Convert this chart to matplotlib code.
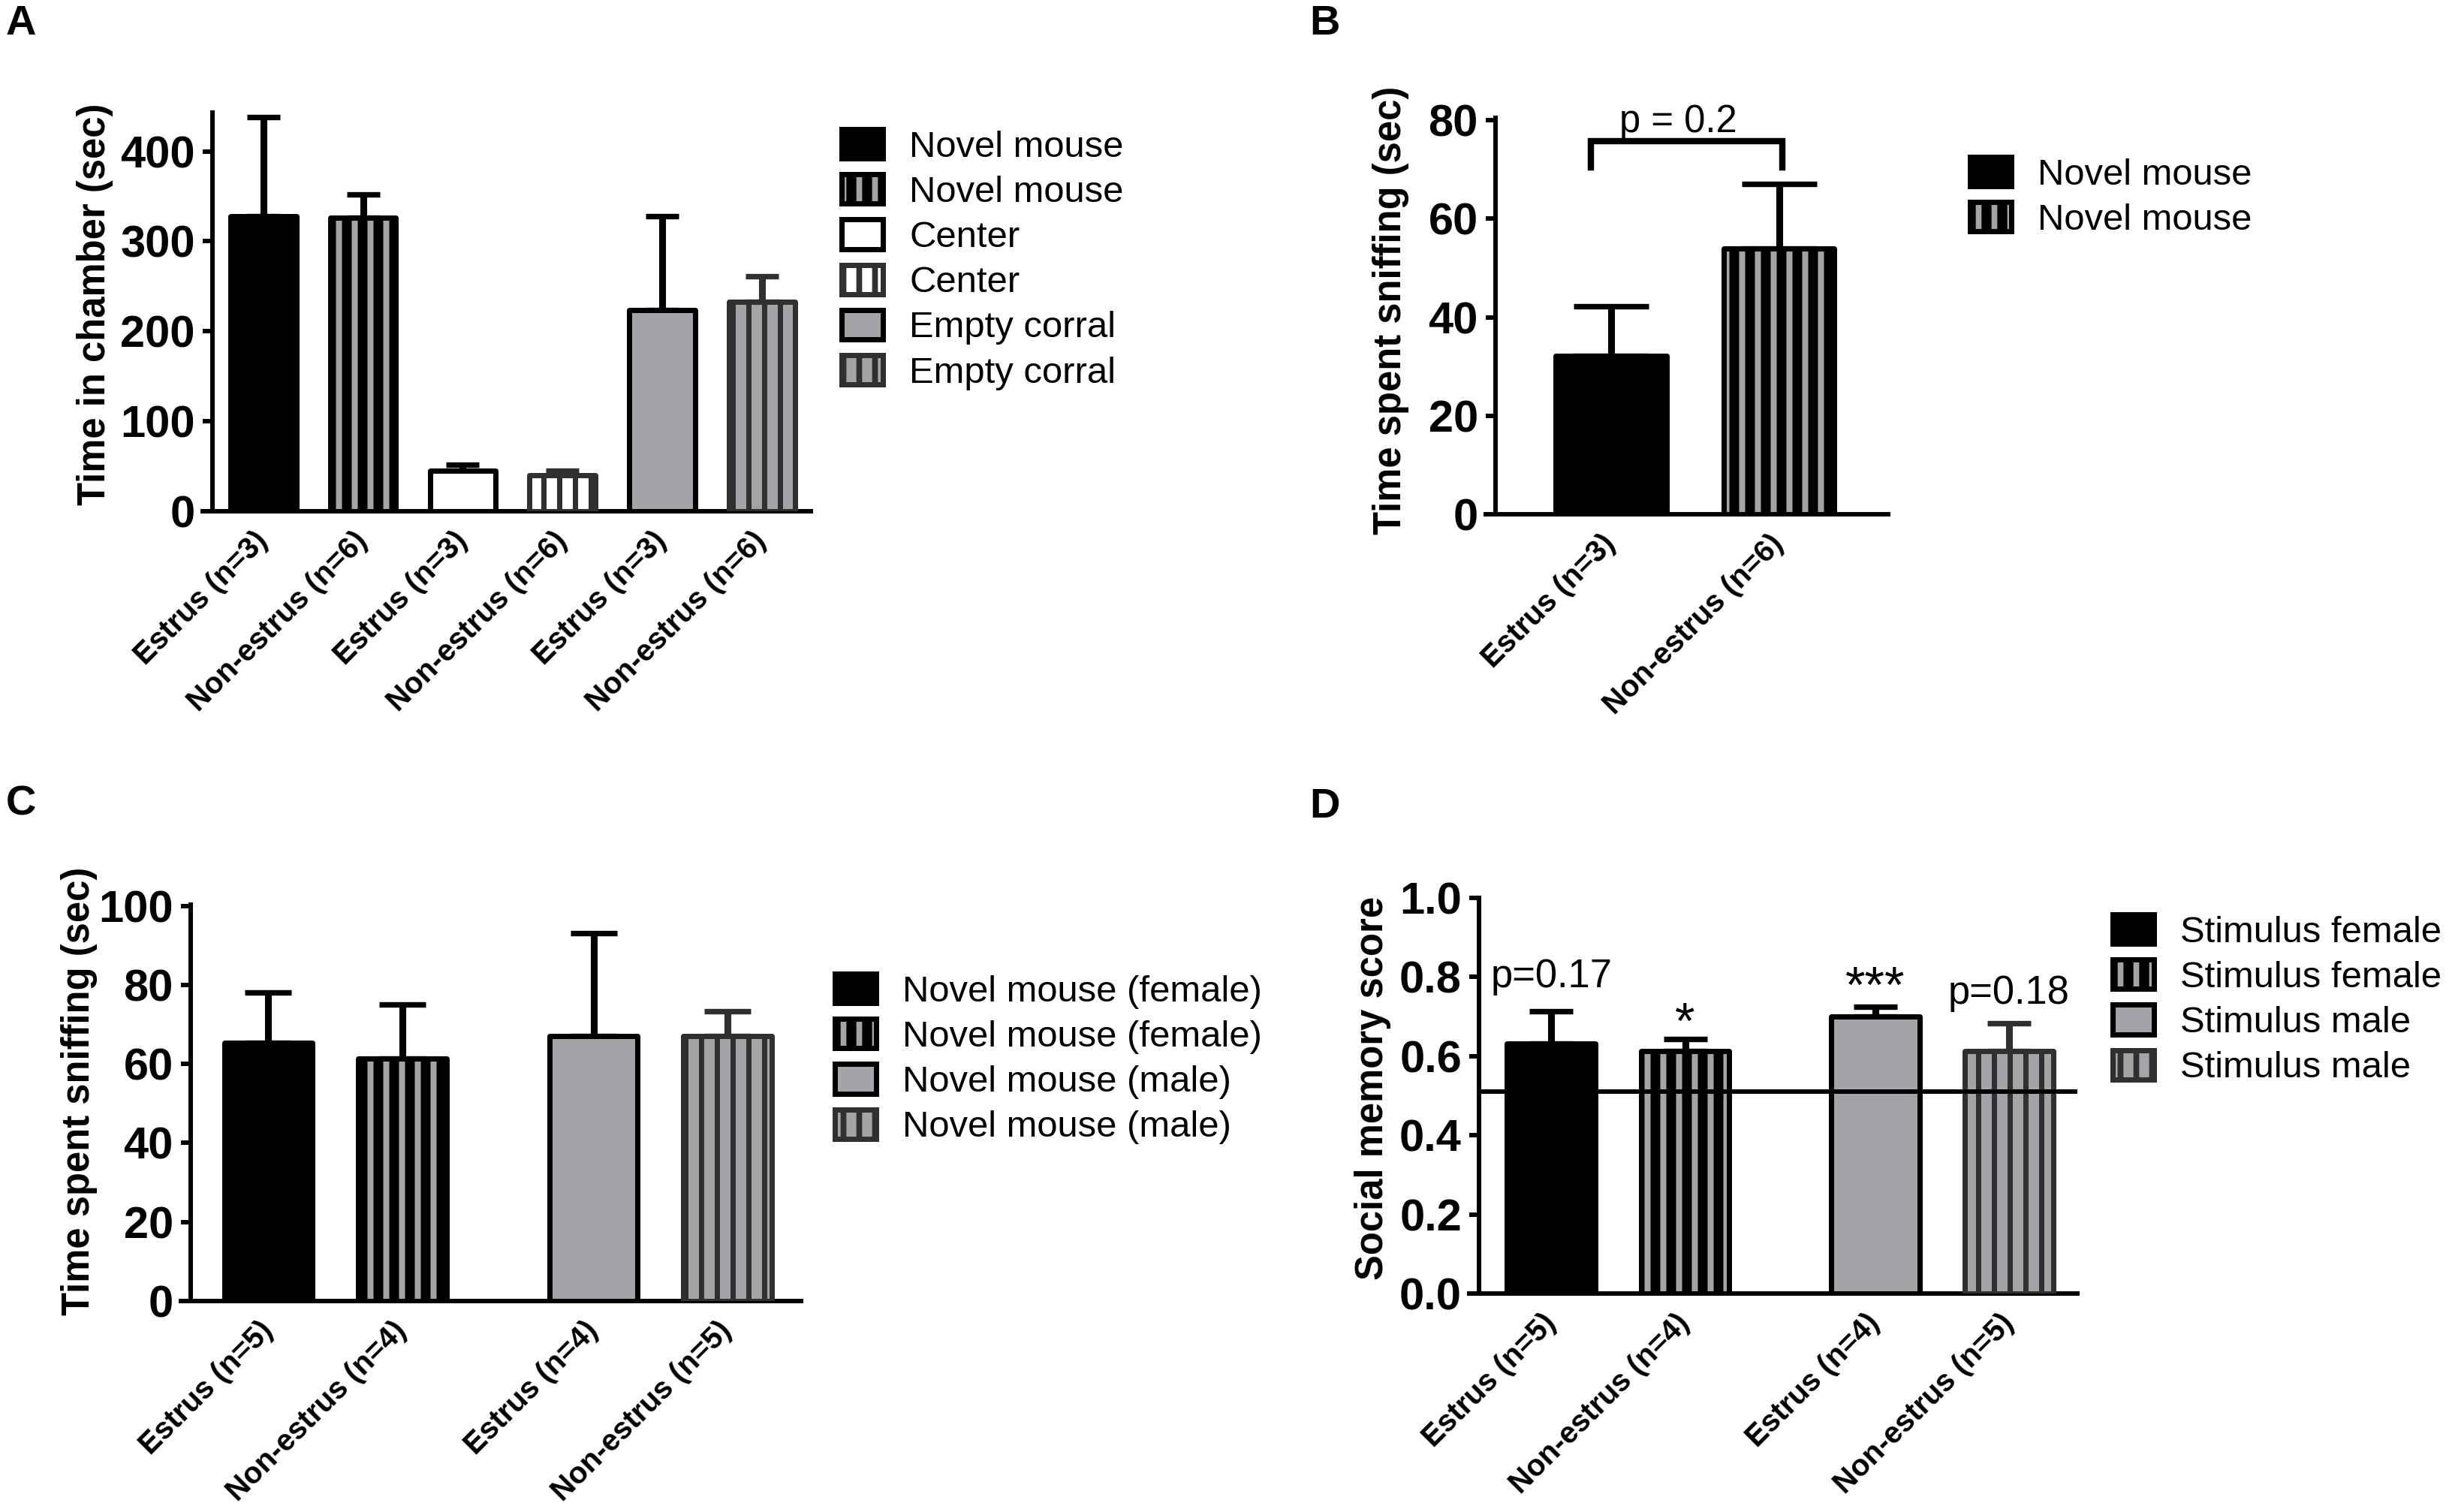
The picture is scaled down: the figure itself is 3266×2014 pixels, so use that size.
import matplotlib
matplotlib.use('Agg')
import matplotlib.pyplot as plt
from matplotlib.patches import Patch
from matplotlib.legend_handler import HandlerTuple

W, H = 3266, 2014
DPI = 252

# ---------------- data ----------------
A_labels = ['Estrus (n=3)', 'Non-estrus (n=6)', 'Estrus (n=3)', 'Non-estrus (n=6)',
            'Estrus (n=3)', 'Non-estrus (n=6)']
A_means = [328, 326, 45, 40, 224, 233]
A_err = [110, 26, 7, 5, 104, 28]
A_legend = ['Novel mouse', 'Novel mouse', 'Center', 'Center', 'Empty corral', 'Empty corral']
A_yticks = [0, 100, 200, 300, 400]

B_labels = ['Estrus (n=3)', 'Non-estrus (n=6)']
B_means = [32.1, 54.0]
B_err = [10.2, 13.1]
B_legend = ['Novel mouse', 'Novel mouse']
B_yticks = [0, 20, 40, 60, 80]
B_pval = 'p = 0.2'

C_labels = ['Estrus (n=5)', 'Non-estrus (n=4)', 'Estrus (n=4)', 'Non-estrus (n=5)']
C_means = [65.4, 61.4, 67.1, 67.1]
C_err = [12.7, 13.7, 25.9, 6.2]
C_legend = ['Novel mouse (female)', 'Novel mouse (female)', 'Novel mouse (male)', 'Novel mouse (male)']
C_yticks = [0, 20, 40, 60, 80, 100]

D_labels = ['Estrus (n=5)', 'Non-estrus (n=4)', 'Estrus (n=4)', 'Non-estrus (n=5)']
D_means = [0.632, 0.612, 0.701, 0.612]
D_err = [0.081, 0.031, 0.023, 0.071]
D_legend = ['Stimulus female', 'Stimulus female', 'Stimulus male', 'Stimulus male']
D_yticks = [0.0, 0.2, 0.4, 0.6, 0.8, 1.0]
D_annot = ['p=0.17', '*', '***', 'p=0.18']
D_annot_y = [0.774, 0.645, 0.737, 0.732]
D_annot_size = [15, 19.5, 19.5, 15]
D_chance = 0.51

# ---------------- styles ----------------
GRAY = '#a3a3a8'
DARK = '#303030'
ST_BLACK = dict(face='black', stripe=None, edge='black', hlw=2.3)
ST_BLACK_STR = dict(face='black', stripe=GRAY, edge='black', hlw=2.3)
ST_WHITE = dict(face='white', stripe=None, edge='black', hlw=2.0)
ST_WHITE_STR = dict(face='white', stripe=DARK, edge=DARK, hlw=2.0)
ST_GRAY = dict(face=GRAY, stripe=None, edge='black', hlw=2.0)
ST_GRAY_STR = dict(face=GRAY, stripe=DARK, edge=DARK, hlw=2.0)

FONT = 'Liberation Sans'
plt.rcParams['font.family'] = [FONT, 'DejaVu Sans']
plt.rcParams['hatch.linewidth'] = 2.15

fig = plt.figure(figsize=(W / DPI, H / DPI), dpi=DPI)


def make_ax(l, r, b, t):
    return fig.add_axes([l / W, 1 - b / H, (r - l) / W, (b - t) / H])


def draw_bars(ax, x, means, errs, styles, width, capsize):
    for xi, m, e, st in zip(x, means, errs, styles):
        ax.errorbar(xi, m, yerr=[[0], [e]], fmt='none', ecolor=st['edge'],
                    elinewidth=2.6, capsize=capsize, capthick=2.1, zorder=2)
        if st['stripe']:
            with plt.rc_context({'hatch.linewidth': st['hlw']}):
                ax.bar(xi, m, width, color=st['face'], edgecolor=st['stripe'],
                       hatch='||', linewidth=0, zorder=3)
        else:
            ax.bar(xi, m, width, color=st['face'], linewidth=0, zorder=3)
        ax.bar(xi, m, width, facecolor='none', edgecolor=st['edge'],
               linewidth=2.0, joinstyle='round', zorder=4)


def style_axis(ax, x, labels, yticks, ylim, xlim, ylabel, lab_xy, ext):
    ax.set_xlim(*xlim)
    ax.set_ylim(*ylim)
    for s in ['top', 'right']:
        ax.spines[s].set_visible(False)
    for s in ['left', 'bottom']:
        ax.spines[s].set_linewidth(1.7)
    ax.spines['bottom'].set_bounds(xlim[0] - ext, xlim[1])
    ax.set_yticks(yticks)
    ax.set_yticklabels([('%g' % v) if not isinstance(v, float) else ('%.1f' % v) for v in yticks],
                       fontsize=17, fontweight='bold')
    ax.tick_params(axis='y', length=3.7, width=1.7, pad=2.9)
    ax.set_xticks(x)
    ax.set_xticklabels(labels, fontsize=11.5, fontweight='bold', rotation=45,
                       ha='right', va='center', rotation_mode='anchor')
    ax.tick_params(axis='x', length=0, pad=9.5)
    ax.set_ylabel(ylabel, fontsize=14.5, fontweight='bold')
    ax.yaxis.set_label_coords(*lab_xy)
    ax.patch.set_alpha(0)


def add_legend(labels, styles, x_px, y_px):
    handles = []
    with plt.rc_context({'hatch.linewidth': 2.2}):
        for st in styles:
            if st['stripe']:
                p1 = Patch(facecolor=st['face'], edgecolor=st['stripe'], hatch='||', linewidth=0)
            else:
                p1 = Patch(facecolor=st['face'], linewidth=0)
            p2 = Patch(facecolor='none', edgecolor=st['edge'], linewidth=2.0, joinstyle='round')
            handles.append((p1, p2))
        fig.legend(handles, labels, loc='upper left', bbox_to_anchor=(x_px / W, 1 - y_px / H),
                   frameon=False, borderpad=0, borderaxespad=0, fontsize=14,
                   handlelength=1.12, handleheight=0.85, handletextpad=0.72,
                   labelspacing=0.28, handler_map={tuple: HandlerTuple(ndivide=1)})


# ---------------- Panel A ----------------
axA = make_ax(283, 1080, 681, 150)
xA = list(range(len(A_means)))
stA = [ST_BLACK, ST_BLACK_STR, ST_WHITE, ST_WHITE_STR, ST_GRAY, ST_GRAY_STR]
draw_bars(axA, xA, A_means, A_err, stA, 0.66, 6.3)
style_axis(axA, xA, A_labels, A_yticks, (0, 443), (-0.51, 5.49),
           'Time in chamber (sec)', (-0.166, 0.52), 0.1)
add_legend(A_legend, stA, 1121, 172)

# ---------------- Panel B ----------------
axB = make_ax(1992, 2515, 685, 157)
xB = [0, 1]
stB = [ST_BLACK, ST_BLACK_STR]
draw_bars(axB, xB, B_means, B_err, stB, 0.66, 14.3)
style_axis(axB, xB, B_labels, B_yticks, (0, 80.5), (-0.69, 1.65),
           'Time spent sniffing (sec)', (-0.22, 0.515), 0.06)
axB.plot([-0.12, -0.12, 1.02, 1.02], [70.4, 75.7, 75.7, 70.4], color='black', lw=2.4,
         solid_joinstyle='miter', zorder=5)
axB.text(0.40, 77.6, B_pval, ha='center', va='baseline', fontsize=14.5)
add_legend(B_legend, stB, 2624, 209)

# ---------------- Panel C ----------------
axC = make_ax(254, 1067, 1733, 1205)
xC = [0, 1, 2.43, 3.43]
stC = [ST_BLACK, ST_BLACK_STR, ST_GRAY, ST_GRAY_STR]
draw_bars(axC, xC, C_means, C_err, stC, 0.66, 8.9)
style_axis(axC, xC, C_labels, C_yticks, (0, 100.3), (-0.58, 3.98),
           'Time spent sniffing (sec)', (-0.152, 0.53), 0.073)
add_legend(C_legend, stC, 1112, 1297)

# ---------------- Panel D ----------------
axD = make_ax(1970, 2767, 1723, 1196)
xD = [0, 1, 2.42, 3.42]
stD = [ST_BLACK, ST_BLACK_STR, ST_GRAY, ST_GRAY_STR]
draw_bars(axD, xD, D_means, D_err, stD, 0.66, 8.4)
style_axis(axD, xD, D_labels, D_yticks, (0, 1.0), (-0.54, 3.93),
           'Social memory score', (-0.147, 0.52), 0.073)
axD.axhline(D_chance, color='black', lw=1.7, zorder=5)
for xi, txt, yy, fs in zip(xD, D_annot, D_annot_y, D_annot_size):
    axD.text(xi, yy, txt, ha='center', va='baseline', fontsize=fs)
add_legend(D_legend, stD, 2814, 1218)

# ---------------- panel letters ----------------
for lab, px, py in [('A', 8, 6), ('B', 1744, 6), ('C', 8, 1046), ('D', 1744, 1049)]:
    fig.text(px / W, 1 - py / H, lab, ha='left', va='top', fontsize=16, fontweight='bold')

fig.savefig('out.png', dpi=DPI)
